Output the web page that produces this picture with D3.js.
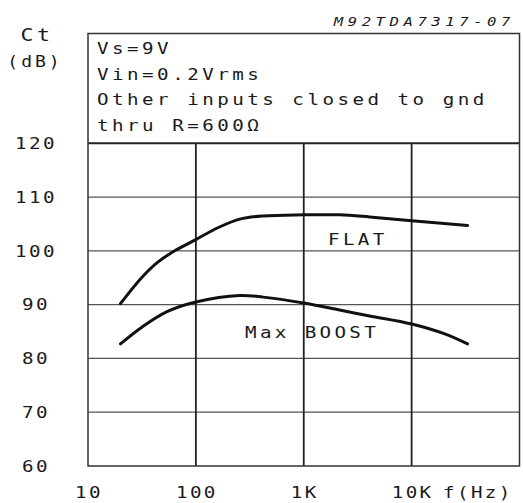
<!DOCTYPE html>
<html>
<head>
<meta charset="utf-8">
<script src="https://cdn.jsdelivr.net/npm/d3@7"></script>
<style>
  html, body { margin: 0; padding: 0; background: #fff; }
  svg { display: block; }
  text { font-family: "DejaVu Sans Mono", monospace; fill: #1a1a1a; }
</style>
</head>
<body>
<svg id="chart" width="523" height="503"></svg>
<script>
// ---- data ----
const flatFreq = [20, 32, 45, 66, 100, 160, 255, 420, 1000, 2150, 4080, 10000, 33000];
const flatDb   = [90.2, 95.2, 98.0, 100.2, 102.1, 104.3, 105.9, 106.5, 106.7, 106.7, 106.3, 105.6, 104.7];
const boostFreq = [20, 32, 54, 100, 255, 420, 1000, 2150, 4080, 10000, 20000, 33000];
const boostDb   = [82.7, 85.9, 88.7, 90.5, 91.7, 91.4, 90.3, 89.0, 87.9, 86.4, 84.6, 82.7];

const yTicks = [60, 70, 80, 90, 100, 110, 120];
const xTicks = [10, 100, 1000, 10000];
const xTickLabels = ["10", "100", "1K", "10K"];
const infoLines = ["Vs=9V", "Vin=0.2Vrms", "Other inputs closed to gnd", "thru R=600\u03A9"];
const seriesLabels = ["FLAT", "Max BOOST"];
const figId = "M92TDA7317-07";

(function () {
const svg = d3.select("#chart");
const pLeft = 88, pRight = 519.5, pTop = 143.3, pBottom = 466, boxTop = 33.5;
const x = d3.scaleLog().domain([10, 100000]).range([pLeft, pRight]);
const y = d3.scaleLinear().domain([60, 120]).range([pBottom, pTop]);

// text helper: horizontally stretched plotter-like text
function label(g, tx, ty, str, opts) {
  const o = Object.assign({size: 16, sx: 1.2, ls: 2.8, anchor: "start", italic: false, dy: null}, opts || {});
  const t = g.append("text")
    .attr("transform", `translate(${tx},${ty}) scale(${o.sx},1)`)
    .attr("text-anchor", o.anchor)
    .style("font-size", o.size + "px")
    .style("letter-spacing", o.ls + "px")
    .text(str);
  if (o.dy) t.attr("dy", o.dy);
  if (o.italic) t.style("font-style", "italic");
  return t;
}

// horizontal grid (70..110)
svg.append("g").selectAll("line")
  .data(yTicks.filter(d => d > 60 && d < 120))
  .join("line")
  .attr("x1", pLeft).attr("x2", pRight)
  .attr("y1", d => y(d)).attr("y2", d => y(d))
  .attr("stroke", "#555").attr("stroke-width", 1.3);

// vertical grid
svg.append("g").selectAll("line")
  .data(xTicks.slice(1))
  .join("line")
  .attr("x1", d => x(d)).attr("x2", d => x(d))
  .attr("y1", pTop).attr("y2", pBottom)
  .attr("stroke", "#222").attr("stroke-width", 1.8);

// 120 line (bottom of info box)
svg.append("line")
  .attr("x1", pLeft).attr("x2", pRight)
  .attr("y1", y(120)).attr("y2", y(120))
  .attr("stroke", "#222").attr("stroke-width", 2);

// outer frame
svg.append("rect")
  .attr("x", pLeft).attr("y", boxTop)
  .attr("width", pRight - pLeft).attr("height", pBottom - boxTop)
  .attr("fill", "none").attr("stroke", "#333").attr("stroke-width", 1.5);

// curves
const line = d3.line().x(d => x(d[0])).y(d => y(d[1])).curve(d3.curveCatmullRom.alpha(0.5));
const flatPts = flatFreq.map((f, i) => [f, flatDb[i]]);
const boostPts = boostFreq.map((f, i) => [f, boostDb[i]]);
[flatPts, boostPts].forEach(pts => {
  svg.append("path").attr("d", line(pts))
    .attr("fill", "none").attr("stroke", "#111").attr("stroke-width", 3)
    .attr("stroke-linecap", "round");
});

const tg = svg.append("g");
// y tick labels
yTicks.forEach(d => label(tg, 36, y(d), d, {anchor: "middle", ls: 2, dy: "0.36em"}));
// x tick labels
xTicks.forEach((d, i) => label(tg, x(d) + 1, 498, xTickLabels[i], {anchor: "middle", ls: 2}));
label(tg, 443, 498, "f(Hz)", {ls: 2});

// axis title
label(tg, 37, 41, "Ct", {anchor: "middle", size: 18, ls: 3});
label(tg, 35, 67, "(dB)", {anchor: "middle", size: 15, ls: 2.5});

// figure id
label(tg, 515, 26, figId, {anchor: "end", size: 13, sx: 1.2, ls: 3.8, italic: true});

// info box text
infoLines.forEach((s, i) => label(tg, 97, 54 + i * 25.5, s, {ls: 2.9}));

// series labels
label(tg, 328, 245, seriesLabels[0], {ls: 2.8});
label(tg, 245, 338, seriesLabels[1], {ls: 2.8});
})();
</script>
</body>
</html>
